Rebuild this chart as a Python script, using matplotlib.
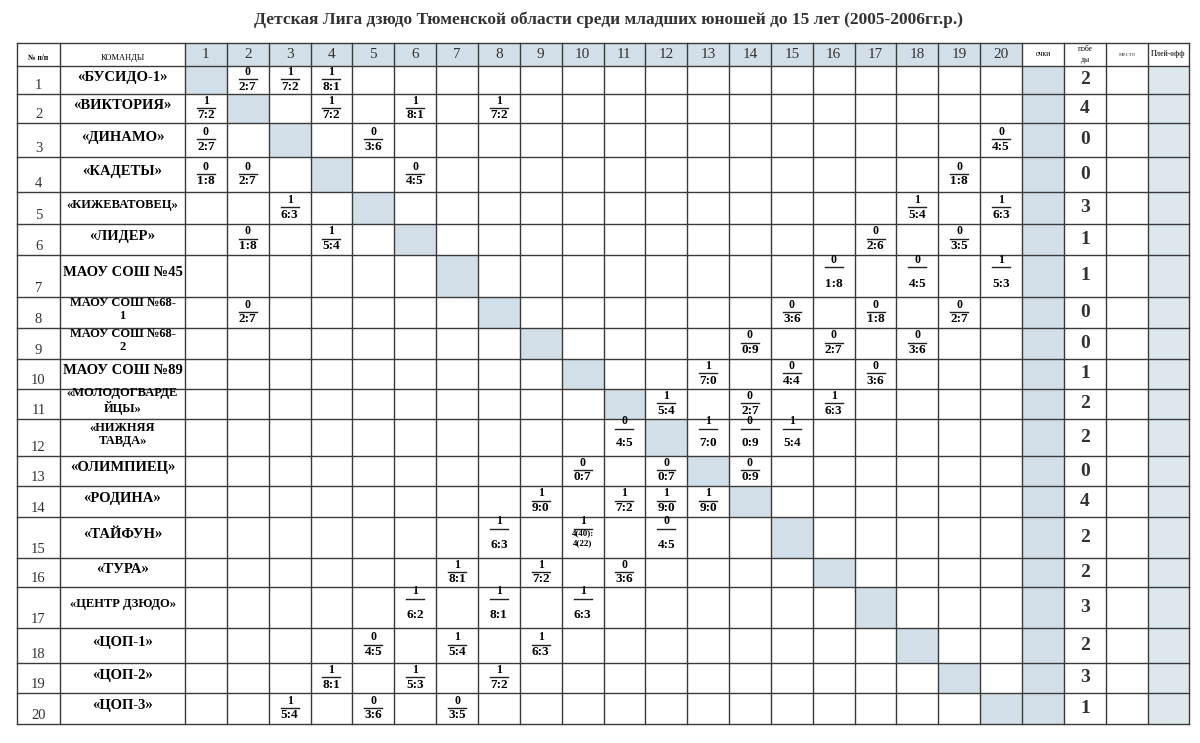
import matplotlib
matplotlib.use("Agg")
import matplotlib.pyplot as plt
from matplotlib.patches import Rectangle

plt.rcParams['font.family'] = ['Liberation Serif', 'DejaVu Serif']

title = "Детская Лига дзюдо Тюменской области среди младших юношей до 15 лет (2005-2006гг.р.)"
teams = ["«БУСИДО-1»", "«ВИКТОРИЯ»", "«ДИНАМО»", "«КАДЕТЫ»", "«КИЖЕВАТОВЕЦ»", "«ЛИДЕР»",
         "МАОУ СОШ №45", "МАОУ СОШ №68-\n1", "МАОУ СОШ №68-\n2", "МАОУ СОШ №89",
         "«МОЛОДОГВАРДЕ\nЙЦЫ»", "«НИЖНЯЯ\nТАВДА»", "«ОЛИМПИЕЦ»", "«РОДИНА»", "«ТАЙФУН»",
         "«ТУРА»", "«ЦЕНТР ДЗЮДО»", "«ЦОП-1»", "«ЦОП-2»", "«ЦОП-3»"]
wins = [2, 4, 0, 0, 3, 1, 1, 0, 0, 1, 2, 2, 0, 4, 2, 2, 3, 2, 3, 1]
# (row, column, result, score)
matches = [
    (1, 2, 0, "2:7"), (1, 3, 1, "7:2"), (1, 4, 1, "8:1"),
    (2, 1, 1, "7:2"), (2, 4, 1, "7:2"), (2, 6, 1, "8:1"), (2, 8, 1, "7:2"),
    (3, 1, 0, "2:7"), (3, 5, 0, "3:6"), (3, 20, 0, "4:5"),
    (4, 1, 0, "1:8"), (4, 2, 0, "2:7"), (4, 6, 0, "4:5"), (4, 19, 0, "1:8"),
    (5, 3, 1, "6:3"), (5, 18, 1, "5:4"), (5, 20, 1, "6:3"),
    (6, 2, 0, "1:8"), (6, 4, 1, "5:4"), (6, 17, 0, "2:6"), (6, 19, 0, "3:5"),
    (7, 16, 0, "1:8"), (7, 18, 0, "4:5"), (7, 20, 1, "5:3"),
    (8, 2, 0, "2:7"), (8, 15, 0, "3:6"), (8, 17, 0, "1:8"), (8, 19, 0, "2:7"),
    (9, 14, 0, "0:9"), (9, 16, 0, "2:7"), (9, 18, 0, "3:6"),
    (10, 13, 1, "7:0"), (10, 15, 0, "4:4"), (10, 17, 0, "3:6"),
    (11, 12, 1, "5:4"), (11, 14, 0, "2:7"), (11, 16, 1, "6:3"),
    (12, 11, 0, "4:5"), (12, 13, 1, "7:0"), (12, 14, 0, "0:9"), (12, 15, 1, "5:4"),
    (13, 10, 0, "0:7"), (13, 12, 0, "0:7"), (13, 14, 0, "0:9"),
    (14, 9, 1, "9:0"), (14, 11, 1, "7:2"), (14, 12, 1, "9:0"), (14, 13, 1, "9:0"),
    (15, 8, 1, "6:3"), (15, 10, 1, "4(40):\n4(22)"), (15, 12, 0, "4:5"),
    (16, 7, 1, "8:1"), (16, 9, 1, "7:2"), (16, 11, 0, "3:6"),
    (17, 6, 1, "6:2"), (17, 8, 1, "8:1"), (17, 10, 1, "6:3"),
    (18, 5, 0, "4:5"), (18, 7, 1, "5:4"), (18, 9, 1, "6:3"),
    (19, 4, 1, "8:1"), (19, 6, 1, "5:3"), (19, 8, 1, "7:2"),
    (20, 3, 1, "5:4"), (20, 5, 0, "3:6"), (20, 7, 0, "3:5"),
]

# layout (pixel grid)
row_edges = [43, 66, 94, 123, 157, 192, 224, 255, 297, 328, 359, 389, 419, 456, 486, 517, 558, 587, 628, 663, 693, 724]
x_left, x_no, x_team, x_grid_end = 17, 60, 185, 1022
cw = (x_grid_end - x_team) / 20
col_edges = [x_left, x_no] + [x_team + i * cw for i in range(21)] + [1064, 1106, 1148, 1189]
n = 20
blue = "#d2dfe8"
lc = "#3a3a3a"

fig = plt.figure(figsize=(12, 7.43), dpi=100)
ax = fig.add_axes([0, 0, 1, 1])
ax.set_xlim(0, 1200)
ax.set_ylim(743, 0)
ax.axis("off")

def cx(c):
    return x_team + (c - 0.5) * cw

def cell_x0(c):
    return x_team + (c - 1) * cw

for i in range(1, n + 1):
    ax.add_patch(Rectangle((cell_x0(i), row_edges[0]), cw, row_edges[1] - row_edges[0], color=blue, lw=0))
    ax.add_patch(Rectangle((cell_x0(i), row_edges[i]), cw, row_edges[i + 1] - row_edges[i], color=blue, lw=0))
ax.add_patch(Rectangle((x_grid_end, row_edges[1]), 1064 - x_grid_end, row_edges[-1] - row_edges[1], color=blue, lw=0))
ax.add_patch(Rectangle((1148, row_edges[1]), 1189 - 1148, row_edges[-1] - row_edges[1], color="#dce8ec", lw=0))

for y in row_edges:
    ax.plot([x_left, 1189], [y, y], color=lc, lw=1.0)
for x in col_edges:
    ax.plot([x, x], [row_edges[0], row_edges[-1]], color=lc, lw=1.0)

hy = (row_edges[0] + row_edges[1]) / 2
ax.text((x_left + x_no) / 2, hy + 3, "№ п/п", ha="center", va="center", fontsize=5.5, weight="bold")
ax.text((x_no + x_team) / 2, hy + 3, "КОМАНДЫ", ha="center", va="center", fontsize=6)
for i in range(1, n + 1):
    ax.text(cx(i), hy, str(i), ha="center", va="center", fontsize=11, color="#333")
ax.text((x_grid_end + 1064) / 2, hy, "очки", ha="center", va="center", fontsize=5.5)
ax.text((1064 + 1106) / 2, hy, "побе\nды", ha="center", va="center", fontsize=5.5, linespacing=1.6)
ax.text((1106 + 1148) / 2, hy, "место", ha="center", va="center", fontsize=5, color="#555")
ax.text((1148 + 1189) / 2, hy, "Плей-офф", ha="center", va="center", fontsize=5.5, weight="bold", color="#444")

for r in range(1, n + 1):
    y0, y1 = row_edges[r], row_edges[r + 1]
    ym = (y0 + y1) / 2
    ax.text((x_left + x_no) / 2, y1 - 2, str(r), ha="center", va="bottom", fontsize=10.5, color="#333")
    ax.text((x_no + x_team) / 2, ym - 3, teams[r - 1], ha="center", va="center",
            fontsize=10.5 if len(teams[r - 1]) < 13 else 9, weight="bold", linespacing=1.15)
    ax.text((1064 + 1106) / 2, ym, str(wins[r - 1]), ha="center", va="center", fontsize=14, weight="bold", color="#333")

for r, c, res, sc in matches:
    y0, y1 = row_edges[r], row_edges[r + 1]
    ym = (y0 + y1) / 2
    x = cx(c)
    tall = (y1 - y0) > 36
    ly = ym - 1 if not tall else ym - 9
    ax.text(x, ly - 1, str(res), ha="center", va="bottom", fontsize=8.5, weight="bold")
    ax.plot([x - 9, x + 9], [ly, ly], color="#222", lw=1)
    if "\n" in sc:
        ax.text(x, ly + 1, sc, ha="center", va="top", fontsize=6.5, weight="bold", linespacing=1.3)
    else:
        sy = ly + 1.5 if not tall else y1 - 19
        ax.text(x, sy, sc, ha="center", va="top", fontsize=9.5, weight="bold")

ax.text(608, 20, title, ha="center", va="center", fontsize=12.5, weight="bold", color="#333")

fig.savefig("out.png", dpi=100, facecolor="white")
